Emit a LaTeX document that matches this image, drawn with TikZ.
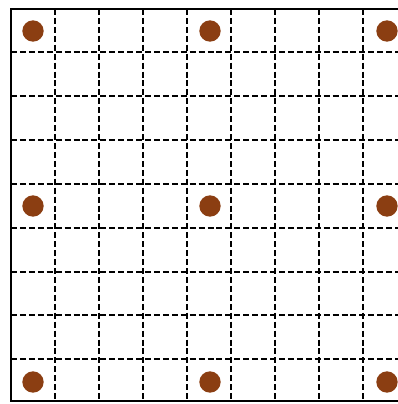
\documentclass[tikz,border=0pt]{standalone}
\definecolor{dotbrown}{RGB}{139,62,18}
\tikzset{
  gridline/.style={line width=1.5pt, dash pattern=on 4.5pt off 2.2pt, black},
  frameline/.style={line width=1.5pt, black},
  brdot/.style={circle, fill=dotbrown, draw=none, minimum size=16pt, inner sep=0pt}
}
\begin{document}
\begin{tikzpicture}[x=0.75pt,y=-0.75pt]
\useasboundingbox (0,0) rectangle (398,404);
\foreach \i in {0,...,7}{
  \draw[gridline] ({55+44*\i},9) -- ({55+44*\i},401);
  \draw[gridline] (11,{52+43.9*\i}) -- (398,{52+43.9*\i});
}
\draw[frameline] (398,9) -- (11,9) -- (11,401) -- (398,401);
\foreach \x/\xn in {33/a,210/b,387/c}{
  \foreach \y/\yn in {31/1,206/2,382/3}{
    \node[brdot] (d\xn\yn) at (\x,\y) {};
  }
}
\end{tikzpicture}
\end{document}
